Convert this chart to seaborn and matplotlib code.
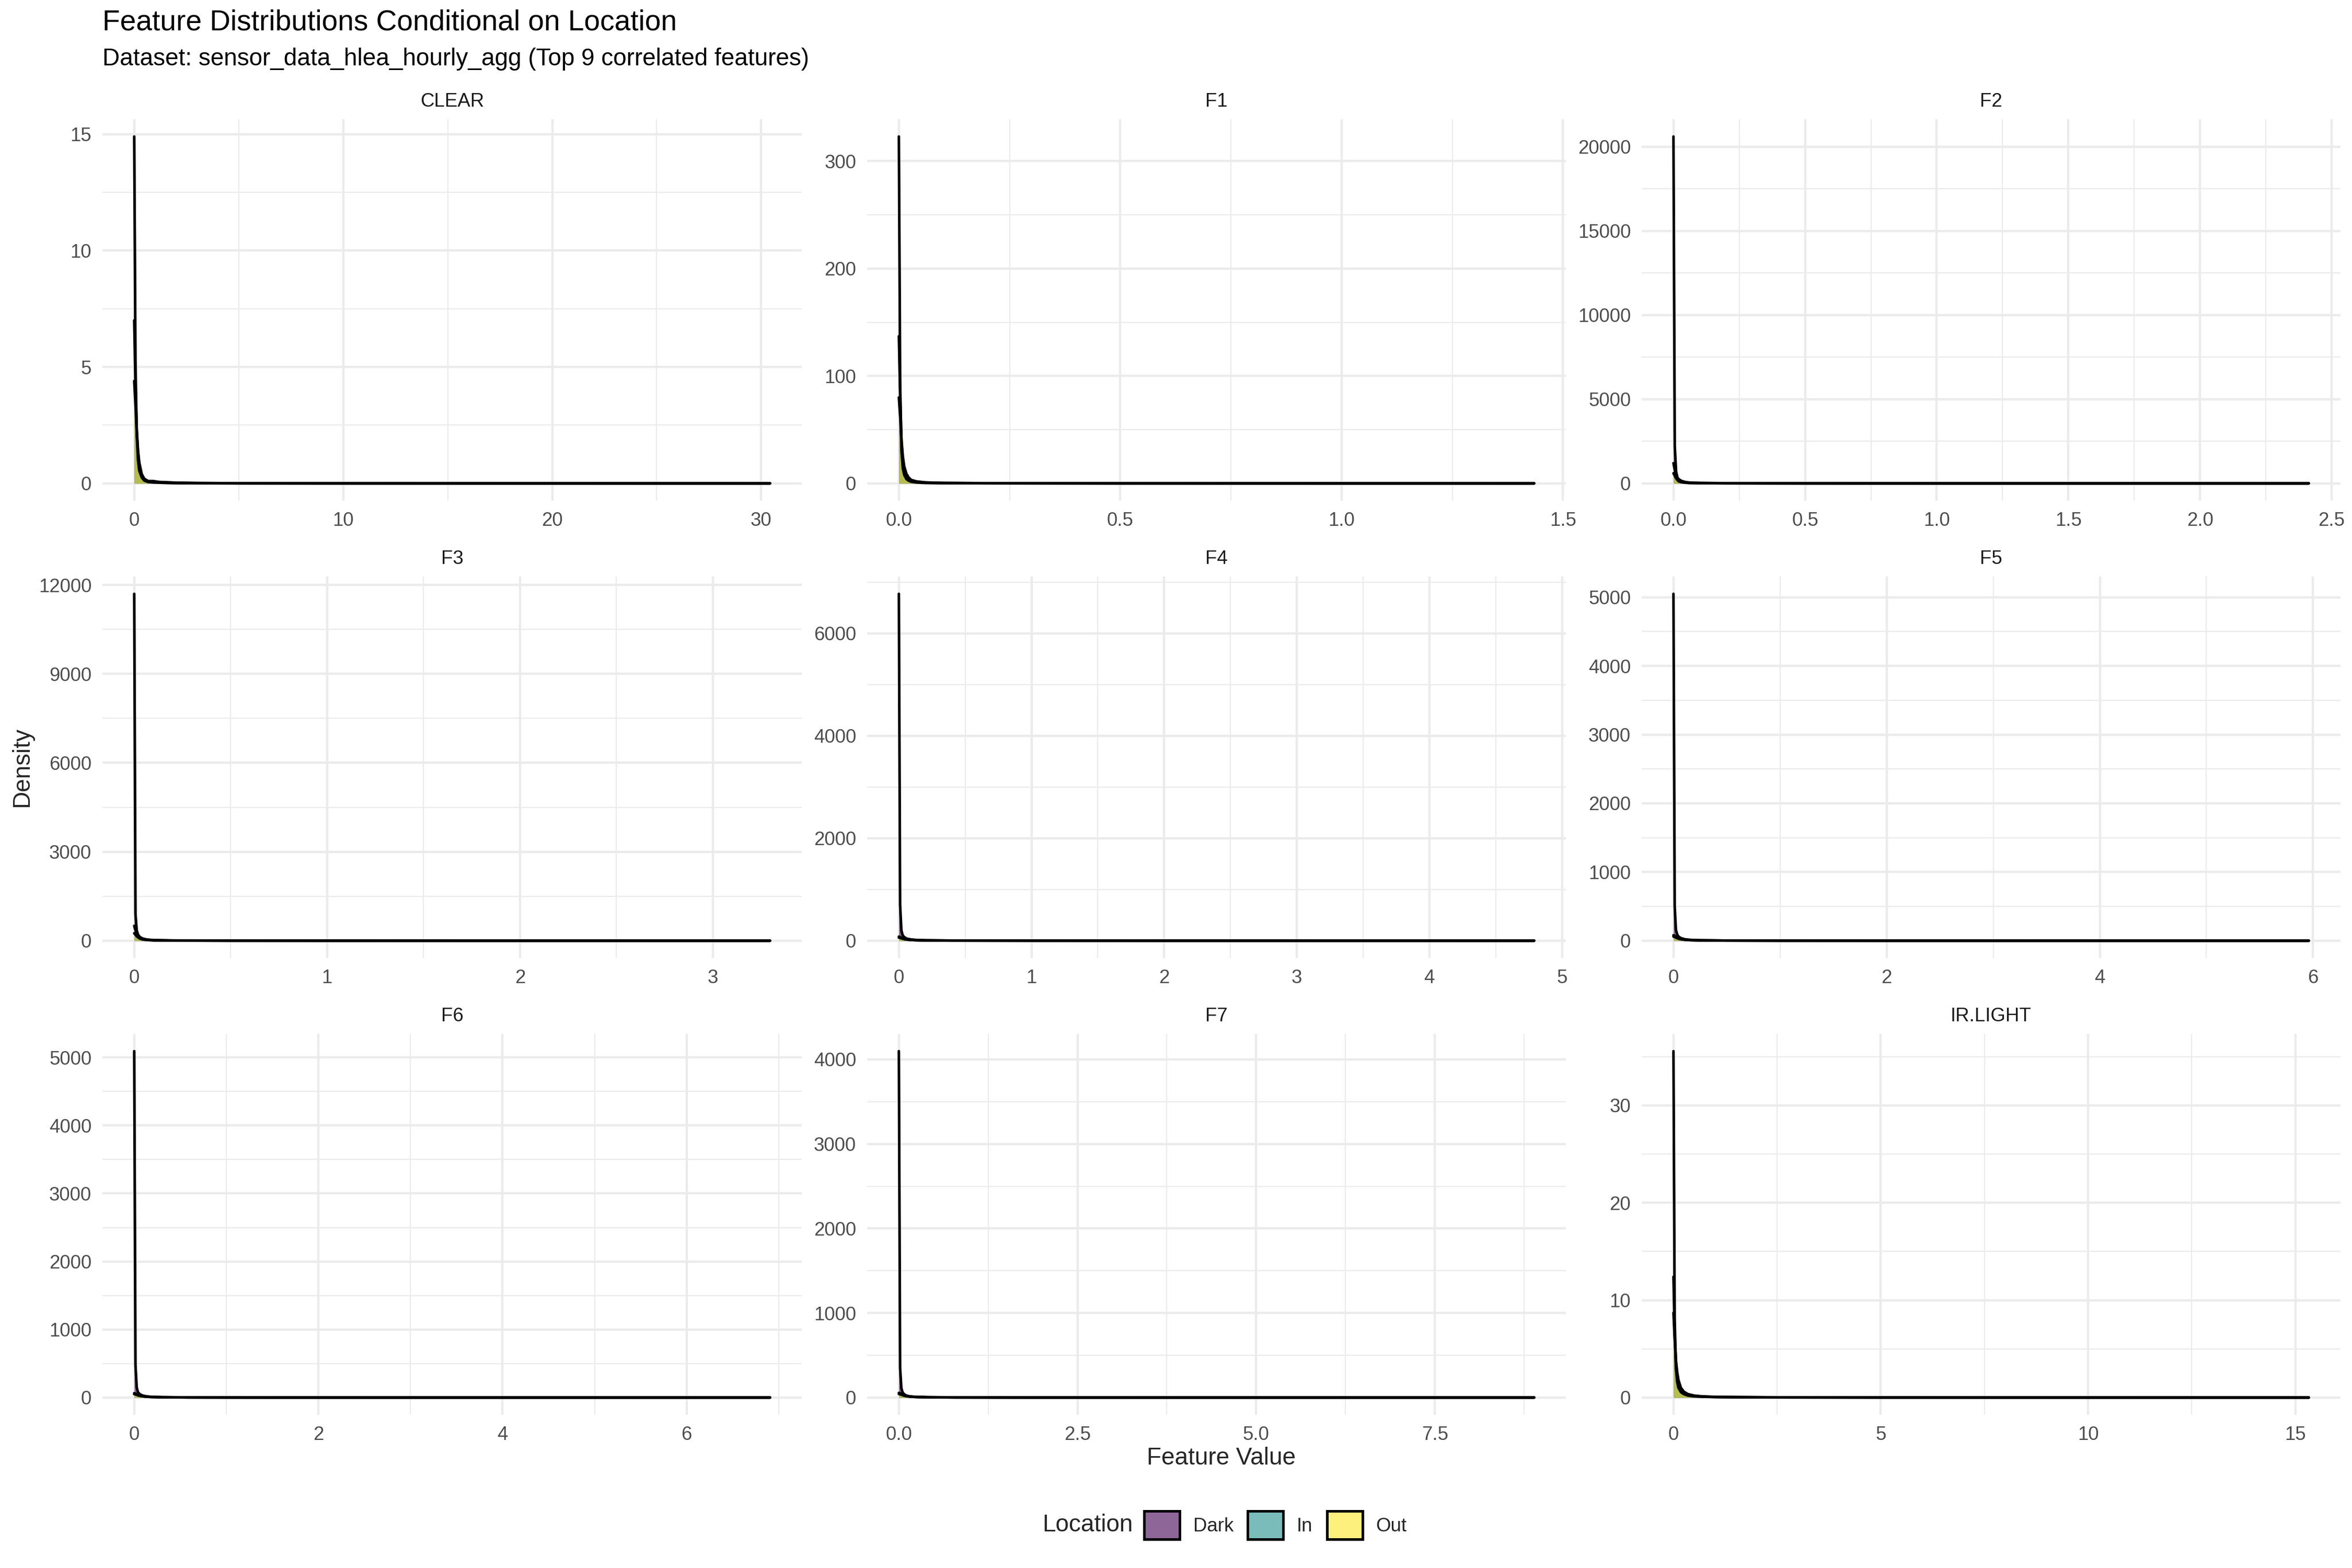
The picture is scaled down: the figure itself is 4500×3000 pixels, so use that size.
import numpy as np
import pandas as pd
import matplotlib
matplotlib.use("Agg")
import matplotlib.pyplot as plt
from matplotlib.ticker import FixedLocator, FixedFormatter, MultipleLocator
from matplotlib.patches import Patch
import seaborn as sns

# ---------------- data ----------------
FEATURES = ["CLEAR", "F1", "F2", "F3", "F4", "F5", "F6", "F7", "IR.LIGHT"]
LOCATIONS = ["Dark", "In", "Out"]

CLEAR_X = [0, 0.06, 0.12, 0.18, 0.24, 0.36, 0.48, 0.66, 0.9, 1.2, 1.5, 2.0, 3.0, 5.0, 10.0, 20.0, 30.42]
CLEAR_DARK = [14.9, 5.2, 2.1, 1.0, 0.55, 0.25, 0.12, 0.06, 0.04, 0.03, 0.02, 0.01, 0.005, 0.002, 0.001, 0.0005, 0.0]
CLEAR_IN = [7.0, 4.2, 2.4, 1.4, 0.8, 0.35, 0.18, 0.09, 0.07, 0.05, 0.03, 0.02, 0.01, 0.004, 0.002, 0.001, 0.0]
CLEAR_OUT = [4.4, 3.4, 2.2, 1.4, 0.9, 0.4, 0.2, 0.1, 0.1, 0.06, 0.05, 0.03, 0.015, 0.006, 0.002, 0.001, 0.0]

F1_X = [0, 0.003, 0.006, 0.009, 0.012, 0.017, 0.022, 0.028, 0.04, 0.06, 0.1, 0.2, 0.5, 1.0, 1.435]
F1_DARK = [323, 90, 30, 14, 8, 4, 2.5, 1.5, 0.8, 0.4, 0.2, 0.1, 0.03, 0.01, 0]
F1_IN = [137, 80, 38, 20, 12, 7, 4.5, 2.8, 1.5, 0.7, 0.3, 0.12, 0.04, 0.01, 0]
F1_OUT = [80, 62, 40, 25, 16, 9, 5.5, 3.2, 1.8, 0.9, 0.4, 0.15, 0.05, 0.01, 0]

F2_X = [0, 0.005, 0.01, 0.015, 0.02, 0.03, 0.045, 0.06, 0.1, 0.2, 0.5, 1.0, 2.413]
F2_DARK = [20600, 2200, 700, 350, 250, 150, 80, 50, 25, 10, 3, 1, 0]
F2_IN = [1200, 800, 450, 250, 150, 90, 50, 30, 15, 6, 2, 0.5, 0]
F2_OUT = [600, 450, 300, 200, 120, 70, 40, 25, 12, 5, 2, 0.5, 0]

F3_X = [0, 0.0065, 0.013, 0.02, 0.03, 0.045, 0.065, 0.1, 0.2, 0.5, 1.0, 2.0, 3.296]
F3_DARK = [11700, 900, 350, 200, 120, 70, 40, 20, 8, 2, 0.5, 0.2, 0]
F3_IN = [500, 350, 220, 150, 90, 50, 30, 15, 6, 2, 0.5, 0.1, 0]
F3_OUT = [250, 200, 150, 110, 70, 40, 25, 12, 5, 1.5, 0.4, 0.1, 0]

F4_X = [0, 0.0094, 0.019, 0.028, 0.04, 0.06, 0.09, 0.13, 0.2, 0.4, 1.0, 2.0, 4.79]
F4_DARK = [6770, 700, 200, 110, 70, 40, 25, 15, 8, 3, 0.8, 0.2, 0]
F4_IN = [80, 70, 55, 45, 35, 25, 16, 10, 6, 2.5, 0.8, 0.2, 0]
F4_OUT = [60, 55, 48, 40, 30, 22, 15, 10, 6, 2.5, 0.8, 0.2, 0]

F5_X = [0, 0.0117, 0.023, 0.035, 0.05, 0.075, 0.11, 0.16, 0.25, 0.5, 1.0, 2.0, 5.96]
F5_DARK = [5050, 500, 160, 90, 55, 35, 20, 12, 6, 2, 0.6, 0.2, 0]
F5_IN = [80, 70, 55, 42, 32, 22, 14, 9, 5, 2, 0.6, 0.2, 0]
F5_OUT = [60, 55, 45, 38, 28, 20, 13, 8, 5, 2, 0.6, 0.2, 0]

F6_X = [0, 0.0135, 0.027, 0.04, 0.06, 0.09, 0.13, 0.19, 0.3, 0.6, 1.2, 2.5, 6.905]
F6_DARK = [5093, 480, 150, 80, 50, 30, 18, 10, 5, 2, 0.5, 0.1, 0]
F6_IN = [64, 58, 48, 38, 28, 20, 13, 8, 4.5, 1.8, 0.5, 0.1, 0]
F6_OUT = [50, 46, 40, 33, 25, 18, 12, 7.5, 4, 1.6, 0.5, 0.1, 0]

F7_X = [0, 0.0174, 0.035, 0.052, 0.075, 0.11, 0.16, 0.24, 0.4, 0.8, 1.6, 3.2, 8.89]
F7_DARK = [4098, 350, 110, 60, 38, 22, 13, 8, 4, 1.5, 0.4, 0.1, 0]
F7_IN = [55, 50, 42, 33, 25, 17, 11, 7, 3.5, 1.4, 0.4, 0.1, 0]
F7_OUT = [42, 39, 34, 28, 21, 15, 10, 6, 3, 1.2, 0.4, 0.1, 0]

IR_X = [0, 0.03, 0.06, 0.09, 0.12, 0.18, 0.25, 0.35, 0.5, 0.7, 1.0, 1.5, 2.5, 5.0, 10.0, 15.32]
IR_DARK = [35.57, 8.0, 3.0, 1.6, 1.0, 0.55, 0.35, 0.2, 0.12, 0.08, 0.05, 0.03, 0.015, 0.005, 0.001, 0]
IR_IN = [12.4, 6.5, 3.5, 2.2, 1.5, 0.8, 0.5, 0.3, 0.18, 0.1, 0.06, 0.04, 0.02, 0.006, 0.001, 0]
IR_OUT = [8.7, 6.0, 3.8, 2.6, 1.8, 1.0, 0.6, 0.35, 0.2, 0.12, 0.07, 0.04, 0.02, 0.006, 0.001, 0]

# tick breaks and labels per facet
X_TICKS = {
    "CLEAR": ([0, 10, 20, 30], ["0", "10", "20", "30"]),
    "F1": ([0, 0.5, 1.0, 1.5], ["0.0", "0.5", "1.0", "1.5"]),
    "F2": ([0, 0.5, 1.0, 1.5, 2.0, 2.5], ["0.0", "0.5", "1.0", "1.5", "2.0", "2.5"]),
    "F3": ([0, 1, 2, 3], ["0", "1", "2", "3"]),
    "F4": ([0, 1, 2, 3, 4, 5], ["0", "1", "2", "3", "4", "5"]),
    "F5": ([0, 2, 4, 6], ["0", "2", "4", "6"]),
    "F6": ([0, 2, 4, 6], ["0", "2", "4", "6"]),
    "F7": ([0, 2.5, 5.0, 7.5], ["0.0", "2.5", "5.0", "7.5"]),
    "IR.LIGHT": ([0, 5, 10, 15], ["0", "5", "10", "15"]),
}
Y_TICKS = {
    "CLEAR": [0, 5, 10, 15],
    "F1": [0, 100, 200, 300],
    "F2": [0, 5000, 10000, 15000, 20000],
    "F3": [0, 3000, 6000, 9000, 12000],
    "F4": [0, 2000, 4000, 6000],
    "F5": [0, 1000, 2000, 3000, 4000, 5000],
    "F6": [0, 1000, 2000, 3000, 4000, 5000],
    "F7": [0, 1000, 2000, 3000, 4000],
    "IR.LIGHT": [0, 10, 20, 30],
}

SERIES = {
    "CLEAR": (CLEAR_X, CLEAR_DARK, CLEAR_IN, CLEAR_OUT),
    "F1": (F1_X, F1_DARK, F1_IN, F1_OUT),
    "F2": (F2_X, F2_DARK, F2_IN, F2_OUT),
    "F3": (F3_X, F3_DARK, F3_IN, F3_OUT),
    "F4": (F4_X, F4_DARK, F4_IN, F4_OUT),
    "F5": (F5_X, F5_DARK, F5_IN, F5_OUT),
    "F6": (F6_X, F6_DARK, F6_IN, F6_OUT),
    "F7": (F7_X, F7_DARK, F7_IN, F7_OUT),
    "IR.LIGHT": (IR_X, IR_DARK, IR_IN, IR_OUT),
}

# long table
rows = []
for feat in FEATURES:
    xs, *ys = SERIES[feat]
    for loc, yv in zip(LOCATIONS, ys):
        for xv, dv in zip(xs, yv):
            rows.append((feat, loc, xv, dv))
df = pd.DataFrame(rows, columns=["feature", "Location", "value", "density"])

# ---------------- style ----------------
sns.set_theme(style="white")
plt.rcParams["font.family"] = ["Liberation Sans", "DejaVu Sans"]

PALETTE = {"Dark": "#440154", "In": "#21908C", "Out": "#FDE725"}
ALPHA = 0.6
GRID = "#EBEBEB"
W, H = 4500, 3000

fig = plt.figure(figsize=(15, 10), dpi=300)
fig.patch.set_facecolor("white")

COLS = [(196, 1534), (1659, 2996), (3141, 4478)]
ROWS = [(228, 958), (1103, 1833), (1978, 2707)]

for i, feat in enumerate(FEATURES):
    r, c = divmod(i, 3)
    x0, x1 = COLS[c]
    y0, y1 = ROWS[r]
    ax = fig.add_axes([x0 / W, 1 - y1 / H, (x1 - x0) / W, (y1 - y0) / H])
    sub = df[df["feature"] == feat]
    for loc in LOCATIONS:
        s = sub[sub["Location"] == loc]
        ax.fill_between(s["value"], 0, s["density"], color=PALETTE[loc],
                        alpha=ALPHA, lw=0, zorder=2)
        sns.lineplot(x=s["value"].values, y=s["density"].values, ax=ax,
                     color="black", lw=1.2, sort=False, estimator=None,
                     zorder=3, legend=False)
    xr = sub["value"].max()
    yr = sub["density"].max()
    ax.set_xlim(-0.05 * xr, 1.05 * xr)
    ax.set_ylim(-0.05 * yr, 1.05 * yr)

    xt, xl = X_TICKS[feat]
    yt = Y_TICKS[feat]
    ax.xaxis.set_major_locator(FixedLocator(xt))
    ax.xaxis.set_major_formatter(FixedFormatter(xl))
    ax.xaxis.set_minor_locator(MultipleLocator((xt[1] - xt[0]) / 2))
    ax.yaxis.set_major_locator(FixedLocator(yt))
    ax.yaxis.set_major_formatter(FixedFormatter([str(v) for v in yt]))
    ax.yaxis.set_minor_locator(MultipleLocator((yt[1] - yt[0]) / 2))

    ax.grid(which="major", color=GRID, lw=1.07, zorder=0)
    ax.grid(which="minor", color=GRID, lw=0.53, zorder=0)
    ax.set_axisbelow(True)
    for sp in ax.spines.values():
        sp.set_visible(False)
    ax.tick_params(which="both", length=0, pad=5, labelsize=8.8,
                   labelcolor="#4D4D4D")
    ax.set_xlabel("")
    ax.set_ylabel("")
    ax.set_facecolor("white")
    ax.annotate(feat, xy=(0.5, 1), xycoords="axes fraction",
                xytext=(0, 8), textcoords="offset points",
                ha="center", va="center", fontsize=8.8, color="#1A1A1A")

# titles
fig.text(196 / W, 1 - 43 / H, "Feature Distributions Conditional on Location",
         fontsize=13.2, color="black", ha="left", va="center")
fig.text(196 / W, 1 - 113 / H,
         "Dataset: sensor_data_hlea_hourly_agg (Top 9 correlated features)",
         fontsize=11, color="black", ha="left", va="center")
fig.text(2337 / W, 1 - 2790 / H, "Feature Value", fontsize=11,
         ha="center", va="center")
fig.text(42 / W, 1 - 1467 / H, "Density", fontsize=11, rotation=90,
         ha="center", va="center")

# legend
handles = [Patch(facecolor=matplotlib.colors.to_rgba(PALETTE[l], ALPHA),
                 edgecolor="black", lw=1.2) for l in LOCATIONS]
fig.text(1994 / W, 1 - 2918 / H, "Location", fontsize=11,
         ha="left", va="center")
fig.legend(handles, LOCATIONS, loc="center left",
           bbox_to_anchor=(2189 / W, 1 - 2918 / H), ncol=3, frameon=False,
           fontsize=8.8, handlelength=1.85, handleheight=1.85,
           handletextpad=0.7, columnspacing=0.75, borderpad=0,
           borderaxespad=0)

fig.savefig("out.png", dpi=300, facecolor="white")
